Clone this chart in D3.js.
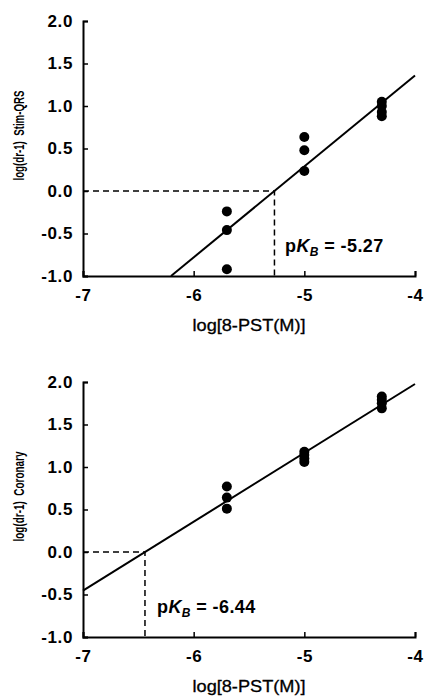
<!DOCTYPE html>
<html>
<head>
<meta charset="utf-8">
<script src="https://cdn.jsdelivr.net/npm/d3@7"></script>
<style>
  body { margin: 0; background: #fff; }
  svg text { font-family: "Liberation Sans", Arial, sans-serif; fill: #000; }
</style>
</head>
<body>
<svg id="chart" width="424" height="698"></svg>
<script>
// concentrations of 8-PST (log M)
const doses = [-5.7, -5, -4.3];

// log(dr-1) readings, one list per dose
const stimQRS = [[-0.24, -0.46, -0.92], [0.635, 0.48, 0.235], [1.05, 1.0, 0.93, 0.88]];
const coronary = [[0.77, 0.64, 0.51], [1.18, 1.14, 1.10, 1.06], [1.83, 1.79, 1.75, 1.69]];

// Schild fits: slope and pKB (x-intercept)
const fitSlopes = [1.07, 0.81];
const pKBs = [-5.27, -6.44];

const xTicks = [-7, -6, -5, -4];
const yTicks = [-1.0, -0.5, 0.0, 0.5, 1.0, 1.5, 2.0];
const panelNames = ["Stim-QRS", "Coronary"];

const svg = d3.select("#chart");

const x = d3.scaleLinear().domain([-7, -4]).range([83, 415]);

function drawPanel(top, bottom, values, slope, pkb, name, pkLabelX) {
  const y = d3.scaleLinear().domain([-1, 2]).range([bottom, top]);
  const g = svg.append("g");

  // axes, ticks turned inward
  const ya = g.append("g").attr("transform", "translate(" + x(-7) + ",0)")
    .call(d3.axisLeft(y).tickValues(yTicks).tickSize(-5).tickSizeOuter(-5)
      .tickPadding(10).tickFormat(d => d.toFixed(1)));
  const xa = g.append("g").attr("transform", "translate(0," + y(-1) + ")")
    .call(d3.axisBottom(x).tickValues(xTicks).tickSize(-5).tickSizeOuter(-5)
      .tickPadding(13).tickFormat(d => String(d)));
  [ya, xa].forEach(a => {
    a.select(".domain").attr("stroke-width", 2);
    a.selectAll(".tick line").attr("stroke-width", 1.5);
    a.selectAll(".tick text").attr("font-size", 17).attr("font-weight", "bold")
      .attr("letter-spacing", 0.6)
      .attr("font-family", "'Liberation Sans', Arial, sans-serif");
  });

  // dashed guides to pKB
  g.append("path")
    .attr("d", d3.line()([[x(-7), y(0)], [x(pkb), y(0)], [x(pkb), y(-1)]]))
    .attr("fill", "none").attr("stroke", "#000").attr("stroke-width", 1.5)
    .attr("stroke-dasharray", "6,4");

  // regression line, clipped to the axes box
  let x0 = Math.max(-7, pkb + (-1) / slope);
  let x1 = Math.min(-4, pkb + 2 / slope);
  g.append("line")
    .attr("x1", x(x0)).attr("y1", y(slope * (x0 - pkb)))
    .attr("x2", x(x1)).attr("y2", y(slope * (x1 - pkb)))
    .attr("stroke", "#000").attr("stroke-width", 2);

  // points
  const pts = [];
  values.forEach((vals, i) => vals.forEach(v => pts.push([doses[i], v])));
  g.selectAll("circle").data(pts).enter().append("circle")
    .attr("cx", d => x(d[0])).attr("cy", d => y(d[1])).attr("r", 5).attr("fill", "#000");

  // pKB label
  const t = g.append("text").attr("x", pkLabelX).attr("y", y(-0.72))
    .attr("font-size", 18).attr("font-weight", "bold").attr("letter-spacing", 0.4);
  t.append("tspan").text("p");
  t.append("tspan").attr("font-style", "italic").text("K");
  t.append("tspan").attr("font-style", "italic").attr("font-size", 12).attr("dy", 4).text("B");
  t.append("tspan").attr("dy", -4).text(" = " + pkb.toFixed(2));

  // axis titles
  g.append("text").attr("x", (x(-7) + x(-4)) / 2).attr("y", y(-1) + 55)
    .attr("text-anchor", "middle").attr("font-size", 16).attr("textLength", 113)
    .attr("lengthAdjust", "spacingAndGlyphs").attr("stroke", "#000").attr("stroke-width", 0.3)
    .text("log[8-PST(M)]");
  g.append("text")
    .attr("transform", "translate(24," + (y(0.5) - 13) + ") rotate(-90) scale(1,1.3)")
    .attr("text-anchor", "middle").attr("font-size", 11).attr("font-weight", "bold")
    .attr("textLength", 90).attr("lengthAdjust", "spacingAndGlyphs")
    .text("log(dr-1)\u00a0\u00a0" + name);
}

drawPanel(21, 276, stimQRS, fitSlopes[0], pKBs[0], panelNames[0], 285);
drawPanel(382, 637, coronary, fitSlopes[1], pKBs[1], panelNames[1], 157);
</script>
</body>
</html>
